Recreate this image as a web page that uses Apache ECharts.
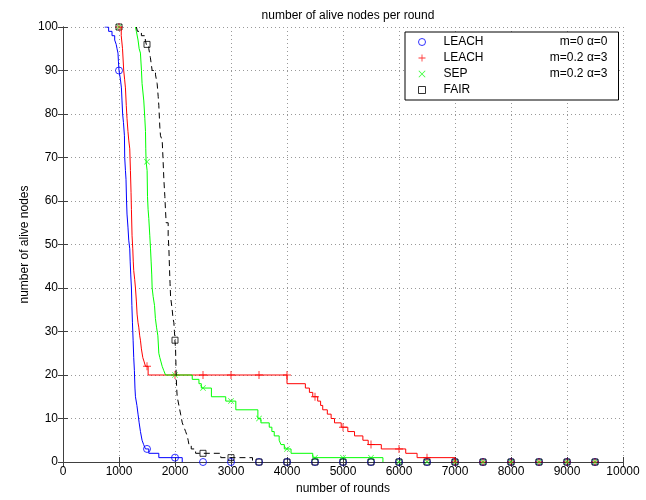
<!DOCTYPE html>
<html>
<head>
<meta charset="utf-8">
<script src="https://cdn.jsdelivr.net/npm/echarts@6/dist/echarts.min.js"></script>
<style>
html, body { margin: 0; padding: 0; background: #fff; }
#chart { width: 646px; height: 500px; }
</style>
</head>
<body>
<div id="chart"></div>
<script>
// marker rounds (every 500 rounds)
const markerRounds = [1000, 1500, 2000, 2500, 3000, 3500, 4000, 4500, 5000, 5500, 6000, 6500, 7000, 7500, 8000, 8500, 9000, 9500];
const leachMarks = [90, 3, 1, 0, 0, 0, 0, 0, 0, 0, 0, 0, 0, 0, 0, 0, 0, 0];
const leach2Marks = [100, 22, 20, 20, 20, 20, 20, 15, 8, 4, 3, 1, 0, 0, 0, 0, 0, 0];
const sepMarks = [100, 69, 20, 17, 14, 10, 3, 1, 1, 1, 0, 0, 0, 0, 0, 0, 0, 0];
const fairMarks = [100, 96, 28, 2, 1, 0, 0, 0, 0, 0, 0, 0, 0, 0, 0, 0, 0, 0];

// step curves: [round, alive nodes from this round on]
const leachSteps = [[744,100],[815,99],[875,98],[923,97],[950,96],[965,95],[982,94],[990,92],[1000,90],[1025,88],[1043,86],[1054,83],[1065,80],[1080,78],[1097,75],[1102,70],[1115,67],[1125,65],[1135,60],[1143,57],[1160,54],[1174,51],[1192,49],[1200,46],[1210,43],[1222,40],[1230,36],[1240,32],[1252,28],[1263,24],[1275,21],[1285,17],[1294,15],[1320,13],[1340,11],[1360,9],[1383,7],[1412,5],[1440,4],[1473,3],[1532,2],[1711,1],[2129,0]];
const leach2Steps = [[1000,100],[1040,98],[1063,95],[1084,90],[1100,88],[1115,86],[1130,82],[1143,79],[1160,76],[1174,74],[1192,72],[1204,67],[1215,62],[1222,58],[1233,52],[1246,49],[1255,46],[1263,44],[1280,42],[1294,40],[1310,37],[1323,34],[1340,32],[1353,31],[1370,29],[1383,28],[1400,26],[1425,24],[1450,23],[1473,22],[1520,20],[4000,18],[4328,17],[4400,16],[4460,15],[4548,14],[4600,13],[4638,12],[4720,11],[4788,10],[4848,9],[4968,8],[5086,7],[5206,6],[5355,5],[5450,4],[5684,3],[6120,2],[6323,1],[7000,0]];
const sepSteps = [[1294,100],[1310,99],[1340,97],[1360,95],[1383,94],[1401,90],[1412,87],[1443,83],[1461,79],[1473,76],[1478,72],[1484,69],[1502,67],[1509,61],[1520,58],[1532,56],[1550,52],[1563,49],[1574,46],[1585,43],[1592,40],[1610,38],[1634,36],[1650,33],[1670,31],[1694,29],[1711,25],[1729,24],[1750,23],[1771,22],[1800,21],[1831,20],[2308,19],[2428,18],[2470,17],[2650,15],[2906,14],[3086,12],[3480,10],[3534,9],[3683,8],[3730,7],[3772,6],[3860,5],[3892,4],[3952,3],[4072,2],[4460,1],[5713,0]];
const fairSteps = [[1310,100],[1330,99],[1400,98],[1470,97],[1487,96],[1532,95],[1560,93],[1592,90],[1652,89],[1681,87],[1700,84],[1711,82],[1729,77],[1741,75],[1771,74],[1785,70],[1801,65],[1819,61],[1830,58],[1842,55],[1878,52],[1891,49],[1903,44],[1912,41],[1921,38],[1950,35],[1965,33],[1980,32],[1990,30],[1998,28],[2010,26],[2021,20],[2030,17],[2039,15],[2070,13],[2100,11],[2130,9],[2160,8],[2190,7],[2218,6],[2235,5],[2249,4],[2290,3],[2368,2],[2817,1],[3384,0]];

const seriesNames = ['LEACH|m=0 α=0', 'LEACH|m=0.2 α=3', 'SEP|m=0.2 α=3', 'FAIR|'];

const plusPath = 'path://M4.4,0h1.2v10h-1.2zM0,4.4h10v1.2h-10z';
const crossPath = 'path://M0,0.8L0.8,0L10,9.2L9.2,10zM9.2,0L10,0.8L0.8,10L0,9.2z';

const font = "'Liberation Sans', Arial, sans-serif";

function pairs(ys) {
  return markerRounds.map((r, i) => [r, ys[i]]);
}

function stepLine(data, color, dashed) {
  return {
    type: 'line',
    step: 'end',
    data: data,
    symbol: 'none',
    silent: true,
    lineStyle: { color: color, width: 1, type: dashed ? [6, 4] : 'solid' },
  };
}

const chart = echarts.init(document.getElementById('chart'));

const option = {
  animation: false,
  backgroundColor: '#fff',
  title: {
    text: 'number of alive nodes per round',
    left: 343,
    top: 5,
    textAlign: 'center',
    textStyle: { fontFamily: font, fontSize: 12, fontWeight: 'normal', color: '#000' },
  },
  grid: { left: 63, right: 23, top: 27, bottom: 34 },
  legend: {
    data: seriesNames,
    orient: 'vertical',
    left: 405,
    top: 32,
    padding: [4, 11, 4, 13],
    itemWidth: 7,
    itemHeight: 7,
    itemGap: 4,
    borderColor: '#000',
    borderWidth: 1,
    backgroundColor: '#fff',
    selectedMode: false,
    itemStyle: { borderWidth: 1 },
    formatter: function (name) {
      const p = name.split('|');
      return '{a|' + p[0] + '}{b|' + p[1] + '}';
    },
    textStyle: {
      fontFamily: font,
      fontSize: 12,
      color: '#000',
      rich: {
        a: { width: 80, padding: [0, 0, 0, 13], fontFamily: font, fontSize: 12 },
        b: { width: 84, align: 'right', fontFamily: font, fontSize: 12 },
      },
    },
  },
  xAxis: [
    {
      type: 'value',
      min: 0,
      max: 10000,
      interval: 1000,
      name: 'number of rounds',
      nameLocation: 'middle',
      nameGap: 21,
      nameTextStyle: { fontFamily: font, fontSize: 12, color: '#000' },
      axisLine: { lineStyle: { color: '#404040' } },
      axisTick: { inside: true, length: 5, lineStyle: { color: '#404040' } },
      axisLabel: { fontFamily: font, fontSize: 12, color: '#000', margin: 4, formatter: v => String(v) },
      splitLine: { show: true, lineStyle: { color: '#999', type: [1, 3] } },
    },
    {
      type: 'value',
      position: 'top',
      min: 0,
      max: 10000,
      interval: 1000,
      axisLine: { lineStyle: { color: '#404040' } },
      axisTick: { inside: true, length: 5, lineStyle: { color: '#404040' } },
      axisLabel: { show: false },
      splitLine: { show: false },
    },
  ],
  yAxis: [
    {
      type: 'value',
      min: 0,
      max: 100,
      interval: 10,
      name: 'number of alive nodes',
      nameLocation: 'middle',
      nameGap: 32,
      nameMoveOverlap: false,
      nameTextStyle: { fontFamily: font, fontSize: 12, color: '#000' },
      axisLine: { show: true, lineStyle: { color: '#404040' } },
      axisTick: { show: true, inside: true, length: 5, lineStyle: { color: '#404040' } },
      axisLabel: { fontFamily: font, fontSize: 12, color: '#000', margin: 5 },
      splitLine: { show: true, lineStyle: { color: '#999', type: [1, 3] } },
    },
    {
      type: 'value',
      position: 'right',
      min: 0,
      max: 100,
      interval: 10,
      axisLine: { show: true, lineStyle: { color: '#404040' } },
      axisTick: { show: true, inside: true, length: 5, lineStyle: { color: '#404040' } },
      axisLabel: { show: false },
      splitLine: { show: false },
    },
  ],
  series: [
    stepLine(leachSteps, '#0000ff', false),
    stepLine(leach2Steps, '#ff0000', false),
    stepLine(sepSteps, '#00ff00', false),
    stepLine(fairSteps, '#000000', true),
    {
      name: seriesNames[0],
      type: 'scatter',
      data: pairs(leachMarks),
      symbol: 'circle',
      symbolSize: 7,
      itemStyle: { color: 'rgba(0,0,0,0)', borderColor: '#0000ff', borderWidth: 1 },
    },
    {
      name: seriesNames[1],
      type: 'scatter',
      data: pairs(leach2Marks),
      symbol: plusPath,
      symbolSize: 8,
      itemStyle: { color: '#ff0000' },
    },
    {
      name: seriesNames[2],
      type: 'scatter',
      data: pairs(sepMarks),
      symbol: crossPath,
      symbolSize: 6,
      itemStyle: { color: '#00ff00' },
    },
    {
      name: seriesNames[3],
      type: 'scatter',
      data: pairs(fairMarks),
      symbol: 'rect',
      symbolSize: 6,
      itemStyle: { color: 'rgba(0,0,0,0)', borderColor: '#000000', borderWidth: 1 },
    },
  ],
};

chart.setOption(option);
</script>
</body>
</html>
